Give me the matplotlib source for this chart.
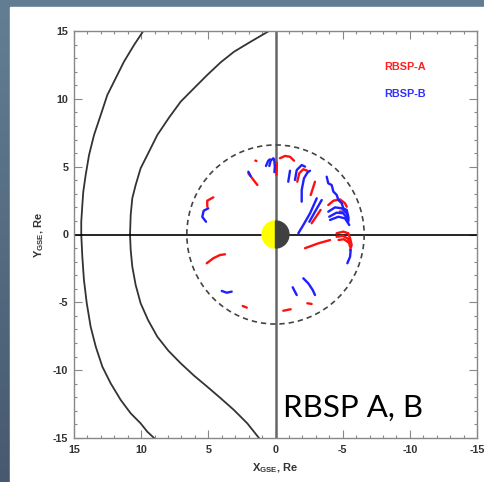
import numpy as np
import matplotlib.pyplot as plt
from matplotlib.patches import Wedge, Circle, Rectangle
from matplotlib.ticker import MultipleLocator

plt.rcParams['axes.unicode_minus'] = False
plt.rcParams['mathtext.fontset'] = 'custom'
plt.rcParams['mathtext.rm'] = 'Liberation Sans:bold'
plt.rcParams['mathtext.default'] = 'rm'

# bow shock and magnetopause boundaries (X_GSE, Y_GSE in Re)
bow_shock_x = [9.84, 10.53, 11.28, 11.9, 12.52, 13.01, 13.51, 13.88, 14.13, 14.31, 14.38, 14.46, 14.46,
               14.38, 14.26, 14.05, 13.76, 13.38, 12.89, 12.27, 11.52, 10.78, 10.04, 9.54, 9.04]
bow_shock_y = [15.0, 13.97, 12.74, 11.51, 10.28, 8.81, 7.33, 5.86, 4.39, 3.15, 2.17, 0.94, 0.0,
               -1.64, -3.35, -5.07, -6.80, -8.27, -9.74, -10.97, -12.2, -13.18, -13.92, -14.54, -15.0]
mpause_x = [0.48, 1.85, 3.09, 4.08, 5.08, 6.07, 7.06, 7.93, 8.8, 9.42, 10.04, 10.41, 10.66, 10.78, 10.83,
            10.78, 10.66, 10.41, 10.04, 9.49, 8.8, 7.98, 7.06, 6.07, 5.08, 4.08, 3.09, 2.1, 1.23]
mpause_y = [15.0, 14.21, 13.47, 12.69, 11.76, 10.78, 9.79, 8.61, 7.33, 6.1, 4.88, 3.65, 2.67, 1.44, 0.0,
            -1.14, -2.37, -3.72, -5.07, -6.3, -7.53, -8.56, -9.49, -10.4, -11.22, -12.07, -12.94, -13.92, -15.0]

geo_radius = 6.6
earth_radius = 1.0

# RBSP-A trajectory segments
rbsp_a = [
    [(4.63, 2.74), (5.08, 2.49), (5.08, 2.05)],
    [(2.02, 4.51), (1.7, 4.1), (1.35, 3.65)],
    [(1.5, 5.45), (1.42, 5.42)],
    [(-0.1, 5.3), (-0.07, 4.4)],
    [(-0.33, 5.62), (-0.71, 5.79), (-1.08, 5.73), (-1.38, 5.44)],
    [(-1.62, 3.89), (-1.77, 4.51), (-2.07, 4.81), (-2.37, 4.7)],
    [(-2.94, 3.89), (-2.62, 2.91)],
    [(-3.36, 1.81), (-2.94, 1.19), (-2.69, 0.83)],
    [(-3.93, 2.17), (-4.31, 2.49), (-4.8, 2.59), (-5.17, 2.3), (-5.3, 2.05)],
    [(-4.8, 1.7), (-5.0, 1.65)],
    [(-4.55, 0.09), (-5.05, 0.21), (-5.42, 0.09), (-5.55, -0.28), (-5.67, -0.77), (-5.55, -1.14)],
    [(-4.55, -0.17), (-5.0, -0.1), (-5.4, -0.3), (-5.55, -0.9)],
    [(-4.7, -0.4), (-5.1, -0.35), (-5.45, -0.6)],
    [(-2.2, -1.01), (-3.19, -0.65), (-4.06, -0.41)],
    [(-2.37, -5.07), (-2.69, -5.12)],
    [(-0.58, -5.62), (-1.13, -5.51)],
    [(5.12, -2.12), (4.63, -1.75), (4.13, -1.51), (3.76, -1.46)],
    [(2.44, -5.27), (2.14, -5.39)],
]

# RBSP-B trajectory segments
rbsp_b = [
    [(5.0, 1.93), (5.35, 1.75), (5.45, 1.3), (5.17, 0.94)],
    [(2.02, 4.63), (1.85, 4.31)],
    [(0.71, 5.05), (0.54, 5.44), (0.41, 5.54)],
    [(0.46, 5.05), (0.36, 5.44), (0.16, 5.62)],
    [(0.1, 5.55), (0.05, 5.0), (0.08, 4.6)],
    [(-1.45, 4.02), (-1.58, 4.75), (-1.95, 5.12), (-2.2, 5.0)],
    [(-1.08, 4.7), (-0.95, 3.89)],
    [(-1.95, 2.42), (-1.95, 3.28), (-2.12, 4.14), (-2.37, 4.56), (-2.57, 4.7)],
    [(-3.07, 2.67), (-2.57, 1.56), (-2.07, 0.7), (-1.7, 0.09)],
    [(-3.44, 2.54), (-2.94, 1.68), (-2.52, 0.94)],
    [(-3.81, 4.26), (-3.93, 3.77), (-4.18, 3.65), (-4.31, 3.16), (-4.56, 2.91), (-4.68, 2.54),
     (-4.93, 2.3), (-5.05, 1.93), (-5.3, 1.81), (-5.42, 1.31), (-5.42, 0.94)],
    [(-3.93, 1.68), (-4.43, 2.0), (-4.93, 1.93), (-5.3, 1.56), (-5.42, 1.19)],
    [(-4.0, 1.31), (-4.55, 1.61), (-5.05, 1.56), (-5.42, 1.07)],
    [(-4.06, 1.07), (-4.68, 1.31), (-5.17, 1.19), (-5.49, 0.7)],
    [(-5.6, -1.14), (-5.55, -1.64), (-5.35, -2.12)],
    [(-2.07, -3.23), (-2.44, -3.6), (-2.77, -4.09), (-2.94, -4.46)],
    [(-1.28, -3.89), (-1.45, -4.22), (-1.58, -4.46)],
    [(4.0, -4.16), (3.63, -4.29), (3.26, -4.21)],
]

ticks = [15, 10, 5, 0, -5, -10, -15]
tick_labels = ['15', '10', '5', '0', '-5', '-10', '-15']

W, H = 484, 482
fig = plt.figure(figsize=(W / 100, H / 100), dpi=100)

# slide background with white panel
bg = fig.add_axes([0, 0, 1, 1])
grad = np.linspace(0, 1, 256).reshape(-1, 1)
top = np.array([0x63, 0x7e, 0x93]) / 255
bot = np.array([0x47, 0x59, 0x6f]) / 255
img = top + (bot - top) * grad[:, :, None]
bg.imshow(img, aspect='auto', extent=[0, W, H, 0])
bg.add_patch(Rectangle((10, 7), W, H, color='white'))
bg.set_xlim(0, W)
bg.set_ylim(H, 0)
bg.axis('off')

ax = fig.add_axes([74 / W, 1 - 438 / H, 403 / W, 407 / H])
ax.set_xlim(15, -15)
ax.set_ylim(-15, 15)

ax.plot(bow_shock_x, bow_shock_y, color='#333333', lw=1.3)
ax.plot(mpause_x, mpause_y, color='#333333', lw=1.3)

ax.axvline(0, color='#666666', lw=1.8, zorder=2)
ax.axhline(0, color='black', lw=1.2, zorder=2)

ax.add_patch(Circle((0, 0), geo_radius, fill=False, ec='#444444', lw=1.2,
                    ls=(0, (3.2, 2.4)), zorder=3))

for seg in rbsp_a:
    xs, ys = zip(*seg)
    ax.plot(xs, ys, color='#ff1010', lw=1.7, solid_capstyle='round', zorder=4)
for seg in rbsp_b:
    xs, ys = zip(*seg)
    ax.plot(xs, ys, color='#2020ff', lw=1.7, solid_capstyle='round', zorder=4)

# Earth: dayside (+X) yellow, nightside dark
ax.add_patch(Wedge((0, 0), earth_radius, -90, 90, color='#ffff00', zorder=5))
ax.add_patch(Wedge((0, 0), earth_radius, 90, 270, color='#404040', zorder=5))

ax.text(-9.64, 12.35, 'RBSP-A', color='#ff2020', fontsize=7.8, fontweight='bold',
        family='Liberation Sans', ha='center', va='center')
ax.text(-9.64, 10.36, 'RBSP-B', color='#3030ff', fontsize=7.8, fontweight='bold',
        family='Liberation Sans', ha='center', va='center')
ax.text(-0.56, -13.43, 'RBSP A, B', fontsize=22.5, family='Lato', color='black',
        ha='left', va='baseline', zorder=6)

ax.set_xticks(ticks)
ax.set_xticklabels(tick_labels)
ax.set_yticks(ticks)
ax.set_yticklabels(tick_labels)
ax.xaxis.set_minor_locator(MultipleLocator(1))
ax.yaxis.set_minor_locator(MultipleLocator(1))
ax.tick_params(which='both', direction='in', top=True, right=True, color='#888888')
ax.tick_params(which='major', length=5.5, width=0.8)
ax.tick_params(which='minor', length=2.5, width=0.8)
ax.tick_params(axis='x', pad=5)
ax.tick_params(axis='y', pad=4)
for lab in ax.get_xticklabels() + ax.get_yticklabels():
    lab.set_fontfamily('Liberation Sans')
    lab.set_fontweight('bold')
    lab.set_fontsize(7.8)
    lab.set_color('#333333')
for sp in ax.spines.values():
    sp.set_color('#888888')
    sp.set_linewidth(1.0)

ax.set_xlabel(r'X$_{GSE}$, Re', fontsize=8, fontweight='bold', family='Liberation Sans',
              color='#333333', labelpad=5)
ax.set_ylabel(r'Y$_{GSE}$, Re', fontsize=8, fontweight='bold', family='Liberation Sans',
              color='#333333', labelpad=5)

fig.savefig('out.png', dpi=100)
